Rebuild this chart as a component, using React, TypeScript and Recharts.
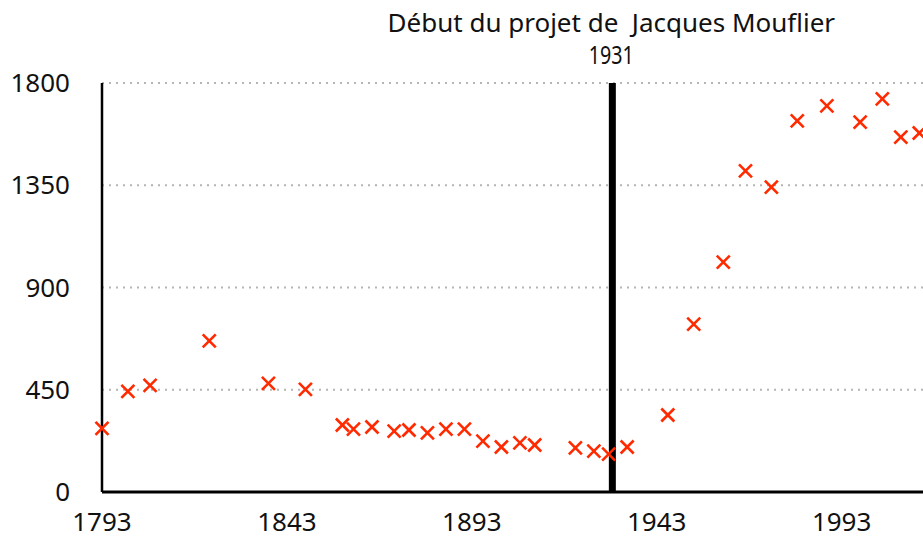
import { ScatterChart, Scatter, XAxis, YAxis, CartesianGrid, ReferenceLine } from 'recharts';

const years = [1793, 1800, 1806, 1822, 1838, 1848, 1858, 1861, 1866, 1872, 1876, 1881, 1886, 1891, 1896, 1901, 1906, 1910, 1921, 1926, 1930, 1935, 1946, 1953, 1961, 1967, 1974, 1981, 1989, 1998, 2004, 2009, 2014];
const values = [280, 443, 469, 665, 478, 452, 295, 277, 286, 268, 273, 260, 277, 277, 224, 198, 216, 207, 194, 180, 167, 198, 339, 739, 1012, 1413, 1342, 1633, 1699, 1628, 1730, 1562, 1580];
const xTicks = [1793, 1843, 1893, 1943, 1993];
const yTicks = [0, 450, 900, 1350, 1800];
const projectYear = 1931;
const projectLabel = 'Début du projet de  Jacques Mouflier';

const data = years.map((year, i) => ({ year, value: values[i] }));

const FONT = '"Noto Sans", "Open Sans", sans-serif';
const RED = '#ff2a00';

// petite croix rouge pour chaque point
const Cross = (props: any) => {
  const { cx, cy } = props;
  const r = 6.5;
  return (
    <g stroke={RED} strokeWidth={2.6}>
      <line x1={cx - r} y1={cy - r} x2={cx + r} y2={cy + r} />
      <line x1={cx - r} y1={cy + r} x2={cx + r} y2={cy - r} />
    </g>
  );
};

const ProjectLabel = (props: any) => {
  const { viewBox } = props;
  const x = viewBox.x;
  return (
    <g fill="#111" fontFamily={FONT}>
      <text x={x - 1} y={32} textAnchor="middle" fontSize={26} style={{ whiteSpace: 'pre' }}>{projectLabel}</text>
      <text x={x - 1} y={64} textAnchor="middle" fontSize={25} textLength={45} lengthAdjust="spacingAndGlyphs">{projectYear}</text>
    </g>
  );
};

export default function App() {
  return (
    <div style={{ position: 'fixed', left: 0, top: 0, width: 923, height: 542, overflow: 'hidden', background: '#fff' }}>
      <ScatterChart width={923} height={542} margin={{ top: 83, right: 0, bottom: 0, left: 0 }}>
        <CartesianGrid horizontal vertical={false} stroke="#b5b5b5" strokeWidth={2} strokeDasharray="2 5" />
        <XAxis
          type="number"
          dataKey="year"
          domain={[1793, 2015]}
          ticks={xTicks}
          height={50}
          axisLine={{ stroke: '#000', strokeWidth: 3 }}
          tickLine={false}
          tickSize={6}
          tickMargin={15}
          tick={{ fill: '#111', fontSize: 26, fontFamily: FONT }}
        />
        <YAxis
          type="number"
          dataKey="value"
          domain={[0, 1800]}
          ticks={yTicks}
          width={102}
          axisLine={{ stroke: '#000', strokeWidth: 2.5 }}
          tickLine={false}
          tickSize={6}
          tickMargin={26}
          tick={{ fill: '#111', fontSize: 26, fontFamily: FONT }}
        />
        <ReferenceLine x={projectYear} stroke="#000" strokeWidth={7} label={<ProjectLabel />} />
        <Scatter data={data} shape={<Cross />} isAnimationActive={false} />
      </ScatterChart>
    </div>
  );
}
